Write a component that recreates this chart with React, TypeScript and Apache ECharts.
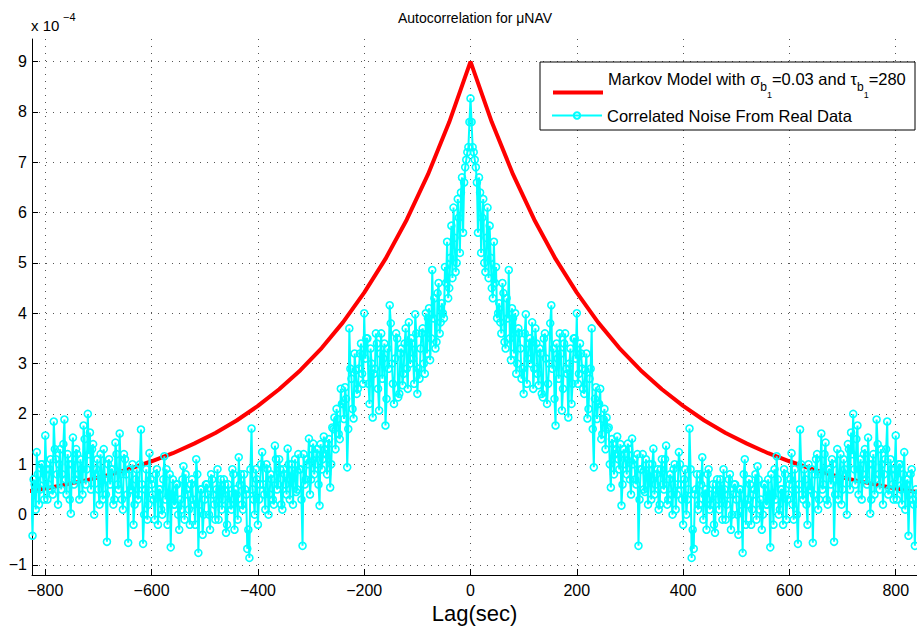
import React, { useEffect, useRef } from "react";
import * as echarts from "echarts";

// Values are in units of 1e-4 (the axis shows "x 10^-4").
const X_TICKS = [-800, -600, -400, -200, 0, 200, 400, 600, 800];
const Y_TICKS = [-1, 0, 1, 2, 3, 4, 5, 6, 7, 8, 9];

// Markov model autocorrelation, read at |lag| = 0, 40, 80, ... 840 (symmetric)
const MODEL_STEP = 40;
const MODEL_HALF = [
  9.0, 7.8, 6.76, 5.86, 5.08, 4.41, 3.82, 3.31, 2.87, 2.49, 2.16, 1.87, 1.62,
  1.41, 1.22, 1.06, 0.915, 0.79, 0.69, 0.6, 0.52, 0.45,
];

// Correlated noise autocorrelation (symmetric in lag).
// NOISE_EVEN: |lag| = 0, 4, 8, ... 840 ; NOISE_ODD: |lag| = 2, 6, 10, ... 838
const NOISE_EVEN = [
  8.27, 7.3, 7.05, 6.6, 6.7, 5.2, 6.27, 4.82, 6.1, 5.74, 4.5, 5.42, 4.92, 4.0,
  3.82, 4.6, 3.43, 4.3, 4.86, 3.07, 3.9, 4.0, 3.0, 3.6, 2.7, 2.4, 3.98, 3.1,
  3.5, 3.82, 2.9, 3.4, 2.57, 3.2, 2.33, 3.6, 2.2, 3.0, 4.16, 3.3, 1.77, 3.1,
  3.6, 2.07, 3.4, 2.9, 1.93, 3.3, 2.6, 3.5, 4.0, 2.8, 3.2, 2.5, 2.87, 1.91,
  2.7, 3.7, 0.94, 2.53, 2.2, 2.5, 1.6, 2.1, 1.93, 1.73, 0.54, 1.4, 1.2, 1.55,
  0.9, 0.18, 1.3, 1.0, 1.41, 0.7, 1.51, 1.1, 0.6, -0.62, 0.9, 1.2, 0.45, 0.8,
  1.0, 0.3, 1.31, 0.6, 0.9, 0.2, 1.1, 0.5, 1.37, 0.3, 0.8, 0.0, 1.0, 0.4, 1.24,
  0.6, -0.2, 0.9, 0.3, 1.71, -0.86, -0.68, 0.5, 0.1, 0.8, 1.14, 0.4, -0.3, 0.9,
  0.2, 0.6, -0.36, 0.7, 0.1, 0.5, 0.9, -0.1, 0.4, 0.8, 0.0, 0.6, 0.3, -0.4,
  0.5, -0.76, 1.1, 0.2, 0.7, -0.2, 0.4, 0.8, 0.96, 0.1, -0.3, 0.6, 0.2, 0.7,
  -0.65, 0.4, 0.9, 1.16, 0.0, 0.5, -0.2, 0.8, 0.3, 0.6, 1.22, -0.1, 0.5, -0.58,
  1.69, 0.4, 0.9, 0.2, 1.0, 0.5, -0.56, 0.8, 1.2, 0.3, 1.61, 0.6, 1.43, 0.2,
  0.9, 1.1, -0.54, 0.7, 0.3, 1.2, 0.5, 0.9, 0.0, 1.3, 1.63, 2.0, 0.6, 1.77, 0.9,
  0.3, 1.2, 0.7, 1.53, 0.02, 1.0, 0.4, 1.89, 0.8, 1.3, 0.2, 1.1, 1.85, 0.5, 0.9,
  0.3, 1.57, 0.7, 1.0, 0.2, 1.24, 0.6, -0.42, 0.8, 0.3, -0.62, 0.4,
];
const NOISE_ODD = [
  7.8, 7.2, 6.9, 5.6, 6.4, 5.9, 5.0, 5.5, 4.7, 5.1,
  4.3, 4.6, 3.9, 4.2, 3.6, 4.4, 3.3, 3.9, 3.5, 4.1,
  3.2, 2.8, 3.7, 3.3, 2.9, 3.6, 2.6, 3.4, 3.0, 2.5,
  3.7, 2.8, 3.3, 2.4, 3.5, 3.1, 2.6, 3.8, 2.9, 2.3,
  3.4, 2.7, 3.2, 2.5, 3.6, 2.8, 3.0, 2.2, 3.5, 3.1,
  2.6, 3.4, 2.9, 2.4, 3.2, 2.1, 2.9, 1.7, 2.3, 1.9,
  2.2, 1.5, 1.9, 1.3, 1.7, 1.0, 1.5, 0.8, 1.3, 1.1,
  1.4, 0.6, 1.2, 0.8, 1.3, 0.4, 1.0, 0.7, 1.2, 0.3,
  0.9, 0.5, 1.1, 0.2, 0.7, 1.0, 0.4, 0.8, 0.1, 0.9,
  0.6, 1.1, 0.2, 0.7, 0.4, 0.9, 0.1, 0.6, 1.0, 0.3,
  0.7, 0.0, 0.5, 0.9, -0.3, 0.4, 0.8, 0.2, 0.6, -0.1,
  0.5, 0.8, 0.1, 0.4, -0.2, 0.6, 0.3, 0.7, -0.1, 0.5,
  0.2, 0.7, -0.3, 0.4, 0.6, 0.0, 0.5, 0.2, 0.8, -0.2,
  0.3, 0.6, 0.1, 0.5, -0.1, 0.7, 0.3, 0.0, 0.6, 0.2,
  0.4, 0.8, -0.2, 0.3, 0.7, 0.1, 0.5, 0.9, -0.1, 0.4,
  0.7, 0.2, 0.9, 0.0, 0.6, 1.0, 0.3, 0.7, -0.2, 0.5,
  0.9, 0.4, 1.1, 0.1, 0.8, 0.5, 1.2, 0.3, 0.9, 0.6,
  1.0, 0.4, 1.3, 0.7, 0.2, 1.1, 0.8, 1.4, 0.5, 1.2,
  0.9, 1.5, 0.4, 1.1, 0.8, 1.3, 0.6, 1.0, 0.3, 1.2,
  0.7, 1.4, 0.5, 1.0, 0.8, 1.3, 0.4, 1.1, 0.6, 0.9,
  0.3, 1.0, 0.5, 0.8, 0.1, 0.7, 0.4, 0.9, 0.2, 0.5,
];

const MARKOV_NAME = "Markov Model with σb1=0.03 and τb1=280";
const NOISE_NAME = "Correlated Noise From Real Data";

function mirror(half: [number, number][]): [number, number][] {
  const out: [number, number][] = [];
  for (let i = half.length - 1; i >= 1; i--) out.push([-half[i][0], half[i][1]]);
  for (let i = 0; i < half.length; i++) out.push(half[i]);
  return out;
}

function modelHalf(): [number, number][] {
  return MODEL_HALF.map((v, i) => [i * MODEL_STEP, v] as [number, number]);
}

function noiseHalf(): [number, number][] {
  const out: [number, number][] = [];
  for (let i = 0; i < NOISE_EVEN.length; i++) {
    out.push([i * 4, NOISE_EVEN[i]]);
    if (i < NOISE_ODD.length) out.push([i * 4 + 2, NOISE_ODD[i]]);
  }
  return out;
}

const FONT = "'Liberation Sans', Arial, Helvetica, sans-serif";
const minus = (v: number) => String(v).replace("-", "\u2212");

export default function App() {
  const ref = useRef<HTMLDivElement>(null);
  useEffect(() => {
    if (!ref.current) return;
    const chart = echarts.init(ref.current, undefined, { renderer: "svg" });
    const gridLine = { show: true, lineStyle: { color: "#555", width: 1, type: [1, 6] as any } };
    const legendCommon = {
      orient: "vertical",
      left: 551,
      padding: 0,
      itemWidth: 50,
      itemHeight: 8,
    };
    chart.setOption({
      animation: false,
      backgroundColor: "#fff",
      textStyle: { fontFamily: FONT },
      title: {
        text: "Autocorrelation for μNAV",
        left: 470,
        textAlign: "center",
        top: 6,
        textStyle: { fontSize: 14, fontWeight: "normal", color: "#000", fontFamily: FONT },
      },
      grid: { left: 32, top: 39, right: 0, bottom: 55 },
      xAxis: {
        type: "value",
        min: -825,
        max: 840,
        name: "Lag(sec)",
        nameLocation: "middle",
        nameGap: 22,
        nameTextStyle: { fontSize: 22, color: "#000", fontFamily: FONT },
        axisLine: { show: true, onZero: false, lineStyle: { color: "#000", width: 1 } },
        axisTick: { show: true, inside: true, length: 6, customValues: X_TICKS, lineStyle: { color: "#000" } },
        axisLabel: { customValues: X_TICKS, fontSize: 16, color: "#000", margin: 7, formatter: minus, fontFamily: FONT },
        splitLine: gridLine,
      },
      yAxis: {
        type: "value",
        min: -1.2,
        max: 9.45,
        axisLine: { show: true, onZero: false, lineStyle: { color: "#000", width: 1 } },
        axisTick: { show: true, inside: true, length: 6, customValues: Y_TICKS, lineStyle: { color: "#000" } },
        axisLabel: { customValues: Y_TICKS, fontSize: 16, color: "#000", margin: 5, formatter: minus, fontFamily: FONT },
        splitLine: gridLine,
      },
      legend: [
        {
          ...legendCommon,
          top: 70,
          data: [
            {
              name: MARKOV_NAME,
              itemStyle: { opacity: 0 },
              lineStyle: { width: 4, color: "#ff0000" },
            },
          ],
          formatter: () =>
            "{m|Markov Model with σ}{s|b}{ss|1}{m|=0.03 and τ}{s|b}{ss|1}{m|=280}",
          textStyle: {
            color: "#000",
            fontFamily: FONT,
            fontSize: 16.5,
            rich: {
              m: { fontSize: 16.5, lineHeight: 18, color: "#000", fontFamily: FONT, verticalAlign: "bottom", padding: [0, 0, 14.5, 0] },
              s: { fontSize: 12, lineHeight: 14, color: "#000", fontFamily: FONT, verticalAlign: "bottom", padding: [0, 0, 8.5, 0] },
              ss: { fontSize: 9, lineHeight: 7, color: "#000", fontFamily: FONT, verticalAlign: "bottom", padding: [0, 0, 2.5, 0] },
            },
          },
        },
        {
          ...legendCommon,
          top: 107,
          data: [NOISE_NAME],
          textStyle: { color: "#000", fontFamily: FONT, fontSize: 16.5 },
        },
      ],
      graphic: [
        {
          type: "rect",
          z: 3,
          shape: { x: 540, y: 62, width: 375, height: 68 },
          style: { fill: "#fff", stroke: "#000", lineWidth: 1 },
        },
        {
          type: "group",
          children: [
            { type: "text", left: 31, top: 18, style: { text: "x 10", fontSize: 15, fill: "#000", fontFamily: FONT } },
            { type: "text", left: 63, top: 11, style: { text: "\u22124", fontSize: 11, fill: "#000", fontFamily: FONT } },
          ],
        },
      ],
      series: [
        {
          name: MARKOV_NAME,
          type: "line",
          data: mirror(modelHalf()),
          showSymbol: false,
          symbol: "none",
          lineStyle: { color: "#ff0000", width: 4 },
          itemStyle: { color: "#ff0000" },
          z: 2,
        },
        {
          name: NOISE_NAME,
          type: "line",
          data: mirror(noiseHalf()),
          symbol: "circle",
          symbolSize: 7,
          showSymbol: true,
          showAllSymbol: true,
          lineStyle: { color: "#00ffff", width: 2 },
          itemStyle: { color: "rgba(0,0,0,0)", borderColor: "#00ffff", borderWidth: 1.6 },
          z: 2,
        },
      ],
    });
    return () => chart.dispose();
  }, []);
  return (
    <div
      ref={ref}
      style={{ position: "fixed", left: 0, top: 0, width: 917, height: 630, background: "#fff" }}
    />
  );
}
